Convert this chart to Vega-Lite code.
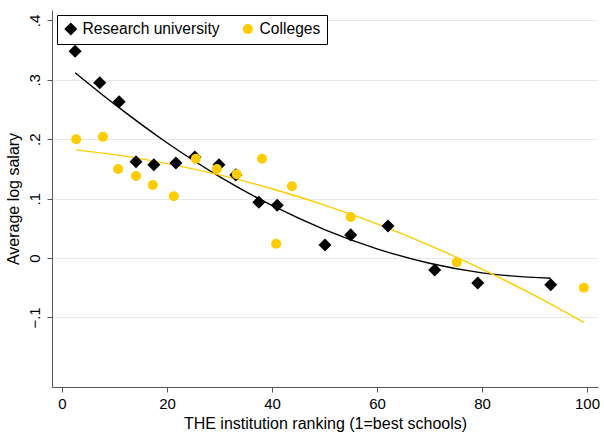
{
  "$schema": "https://vega.github.io/schema/vega-lite/v6.json",
  "autosize": "none",
  "width": 546,
  "height": 377,
  "padding": {"left": 52, "top": 10, "right": 6, "bottom": 45},
  "background": "white",
  "config": {
    "view": {"stroke": null},
    "font": "Liberation Sans",
    "axis": {"labelFont": "Liberation Sans", "titleFont": "Liberation Sans", "labelFontSize": 15, "titleFontSize": 16, "titleFontWeight": "normal", "labelColor": "#000", "titleColor": "#000", "domainColor": "#555", "tickColor": "#555", "tickSize": 5, "gridColor": "#e8e8e8", "gridWidth": 1}
  },
  "datasets": {
    "pts": [
      {"rank": 2.5, "sal": 0.348, "group": "Research university"},
      {"rank": 7.2, "sal": 0.295, "group": "Research university"},
      {"rank": 10.9, "sal": 0.263, "group": "Research university"},
      {"rank": 14.1, "sal": 0.162, "group": "Research university"},
      {"rank": 17.5, "sal": 0.157, "group": "Research university"},
      {"rank": 21.7, "sal": 0.160, "group": "Research university"},
      {"rank": 25.3, "sal": 0.170, "group": "Research university"},
      {"rank": 29.9, "sal": 0.157, "group": "Research university"},
      {"rank": 33.1, "sal": 0.140, "group": "Research university"},
      {"rank": 37.5, "sal": 0.094, "group": "Research university"},
      {"rank": 41.0, "sal": 0.089, "group": "Research university"},
      {"rank": 50.1, "sal": 0.022, "group": "Research university"},
      {"rank": 55.0, "sal": 0.039, "group": "Research university"},
      {"rank": 62.1, "sal": 0.054, "group": "Research university"},
      {"rank": 71.0, "sal": -0.020, "group": "Research university"},
      {"rank": 79.2, "sal": -0.042, "group": "Research university"},
      {"rank": 93.1, "sal": -0.045, "group": "Research university"},
      {"rank": 2.7, "sal": 0.200, "group": "Colleges"},
      {"rank": 7.8, "sal": 0.204, "group": "Colleges"},
      {"rank": 10.7, "sal": 0.150, "group": "Colleges"},
      {"rank": 14.1, "sal": 0.138, "group": "Colleges"},
      {"rank": 17.3, "sal": 0.123, "group": "Colleges"},
      {"rank": 21.3, "sal": 0.104, "group": "Colleges"},
      {"rank": 25.5, "sal": 0.167, "group": "Colleges"},
      {"rank": 29.5, "sal": 0.150, "group": "Colleges"},
      {"rank": 33.3, "sal": 0.141, "group": "Colleges"},
      {"rank": 38.1, "sal": 0.167, "group": "Colleges"},
      {"rank": 43.8, "sal": 0.121, "group": "Colleges"},
      {"rank": 40.8, "sal": 0.024, "group": "Colleges"},
      {"rank": 55.0, "sal": 0.069, "group": "Colleges"},
      {"rank": 75.2, "sal": -0.007, "group": "Colleges"},
      {"rank": 99.4, "sal": -0.050, "group": "Colleges"}
    ],
    "fit": [
      {"rank": 2.5, "fit": 0.312, "group": "Research university"},
      {"rank": 10, "fit": 0.259, "group": "Research university"},
      {"rank": 20, "fit": 0.194, "group": "Research university"},
      {"rank": 30, "fit": 0.137, "group": "Research university"},
      {"rank": 40, "fit": 0.0885, "group": "Research university"},
      {"rank": 50, "fit": 0.048, "group": "Research university"},
      {"rank": 60, "fit": 0.0156, "group": "Research university"},
      {"rank": 70, "fit": -0.0087, "group": "Research university"},
      {"rank": 80, "fit": -0.0249, "group": "Research university"},
      {"rank": 93.1, "fit": -0.034, "group": "Research university"},
      {"rank": 2.7, "fit": 0.182, "group": "Colleges"},
      {"rank": 10, "fit": 0.174, "group": "Colleges"},
      {"rank": 20, "fit": 0.159, "group": "Colleges"},
      {"rank": 30, "fit": 0.140, "group": "Colleges"},
      {"rank": 40, "fit": 0.1166, "group": "Colleges"},
      {"rank": 50, "fit": 0.0891, "group": "Colleges"},
      {"rank": 60, "fit": 0.0574, "group": "Colleges"},
      {"rank": 70, "fit": 0.0215, "group": "Colleges"},
      {"rank": 80, "fit": -0.0186, "group": "Colleges"},
      {"rank": 90, "fit": -0.0629, "group": "Colleges"},
      {"rank": 99.4, "fit": -0.1084, "group": "Colleges"}
    ]
  },
  "layer": [
    {
      "data": {"name": "fit"},
      "transform": [{"filter": "datum.group == 'Research university'"}],
      "mark": {"type": "line", "color": "#000000", "strokeWidth": 1.4, "interpolate": "monotone"},
      "encoding": {
        "x": {"field": "rank", "type": "quantitative"},
        "y": {"field": "fit", "type": "quantitative"}
      }
    },
    {
      "data": {"name": "fit"},
      "transform": [{"filter": "datum.group == 'Colleges'"}],
      "mark": {"type": "line", "color": "#FFCC00", "strokeWidth": 1.4, "interpolate": "monotone"},
      "encoding": {
        "x": {"field": "rank", "type": "quantitative"},
        "y": {"field": "fit", "type": "quantitative"}
      }
    },
    {
      "data": {"name": "pts"},
      "mark": {"type": "point", "filled": true, "opacity": 1},
      "encoding": {
        "x": {
          "field": "rank", "type": "quantitative",
          "scale": {"domain": [-1.9, 102.1], "nice": false, "zero": false},
          "axis": {"values": [0, 20, 40, 60, 80, 100], "grid": false, "title": "THE institution ranking (1=best schools)", "titlePadding": 4, "labelPadding": 4}
        },
        "y": {
          "field": "sal", "type": "quantitative",
          "scale": {"domain": [-0.217, 0.4175], "nice": false, "zero": false},
          "axis": {"values": [-0.1, 0, 0.1, 0.2, 0.3, 0.4], "grid": true, "title": "Average log salary", "labelAngle": -90, "labelAlign": "center", "labelBaseline": "bottom", "labelPadding": 5, "titlePadding": 6,
            "labelExpr": "datum.value == 0 ? '0' : replace(format(datum.value, '.1f'), '0.', '.')"}
        },
        "color": {
          "field": "group", "type": "nominal",
          "scale": {"domain": ["Research university", "Colleges"], "range": ["#000000", "#FFCC00"]},
          "legend": {"title": null, "orient": "none", "legendX": 5, "legendY": 5, "direction": "horizontal", "strokeColor": "#000", "fillColor": "#fff", "padding": 6, "labelFontSize": 15.6, "labelFont": "Liberation Sans", "labelColor": "#000", "columnPadding": 20, "labelOffset": 4, "symbolSize": 150, "symbolOpacity": 1, "symbolStrokeWidth": 0}
        },
        "shape": {
          "field": "group", "type": "nominal",
          "scale": {"domain": ["Research university", "Colleges"], "range": ["diamond", "circle"]}
        },
        "size": {
          "field": "group", "type": "nominal",
          "scale": {"domain": ["Research university", "Colleges"], "range": [170, 100]},
          "legend": null
        }
      }
    }
  ]
}
